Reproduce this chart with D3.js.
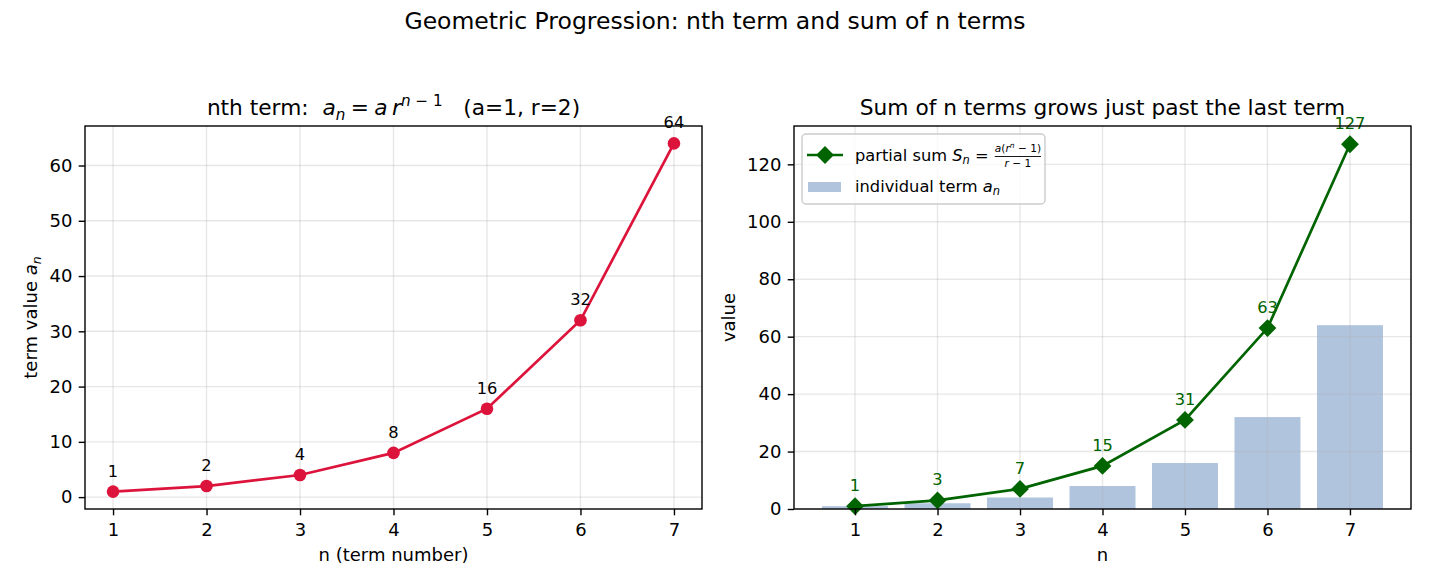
<!DOCTYPE html>
<html lang="en">
<head>
<meta charset="UTF-8"/>
<title>Geometric Progression</title>
<script src="https://d3js.org/d3.v7.min.js"></script>
<style>
  body { margin: 0; background: #fff; }
  text { font-family: "DejaVu Sans", sans-serif; white-space: pre; }
</style>
</head>
<body>
<script>
    // Data
    var nValues = [1, 2, 3, 4, 5, 6, 7];
    var terms = [1, 2, 4, 8, 16, 32, 64];
    var partialSums = [1, 3, 7, 15, 31, 63, 127];
    var leftYTicks = [0, 10, 20, 30, 40, 50, 60];
    var rightYTicks = [0, 20, 40, 60, 80, 100, 120];

    var w = 1430, h = 585;
    var top0 = 126, bottom0 = 509;
    var tickLen = 6.3, tickFont = 18;
    var lw = 2.7;

    var svg = d3.select("body").append("svg")
        .attr("width", w).attr("height", h);

    // Figure title
    svg.append("text")
        .attr("x", 715).attr("y", 29)
        .attr("text-anchor", "middle")
        .attr("font-size", "23.5px")
        .text("Geometric Progression: nth term and sum of n terms");

    // grid lines at the tick positions
    function drawGrid(g, x, y, yTicks) {
        var x0 = x.range()[0], x1 = x.range()[1];
        var y0 = y.range()[1], y1 = y.range()[0];
        g.selectAll("line.gx").data(nValues).enter().append("line")
            .attr("x1", function(d) { return x(d); })
            .attr("x2", function(d) { return x(d); })
            .attr("y1", y0).attr("y2", y1)
            .attr("stroke", "#b0b0b0").attr("stroke-opacity", 0.3).attr("stroke-width", 1.4);
        g.selectAll("line.gy").data(yTicks).enter().append("line")
            .attr("y1", function(d) { return y(d); })
            .attr("y2", function(d) { return y(d); })
            .attr("x1", x0).attr("x2", x1)
            .attr("stroke", "#b0b0b0").attr("stroke-opacity", 0.3).attr("stroke-width", 1.4);
    }

    function drawAxes(g, x, y, yTicks) {
        var x0 = x.range()[0], x1 = x.range()[1];
        var y0 = y.range()[1], y1 = y.range()[0];
        var xAxis = d3.axisBottom(x).tickValues(nValues).tickSize(tickLen).tickPadding(7.9)
            .tickFormat(d3.format("d"));
        var yAxis = d3.axisLeft(y).tickValues(yTicks).tickSize(tickLen).tickPadding(6.3)
            .tickFormat(d3.format("d"));
        var gx = g.append("g").attr("transform", "translate(0," + y1 + ")").call(xAxis);
        var gy = g.append("g").attr("transform", "translate(" + x0 + ",0)").call(yAxis);
        [gx, gy].forEach(function(a) {
            a.select(".domain").remove();
            a.selectAll("line").attr("stroke", "#000").attr("stroke-width", 1.4);
            a.selectAll("text").attr("font-size", tickFont + "px")
                .attr("font-family", "DejaVu Sans").attr("fill", "#000");
        });
        g.append("rect")
            .attr("x", x0).attr("y", y0)
            .attr("width", x1 - x0).attr("height", y1 - y0)
            .attr("fill", "none").attr("stroke", "#000").attr("stroke-width", 1.4);
    }

    // ---------- Left panel: nth term ----------
    var xL = d3.scaleLinear().domain([0.7, 7.3]).range([85, 702]);
    var yL = d3.scaleLinear().domain([-2.15, 67.15]).range([bottom0, top0]);
    var gL = svg.append("g");
    drawGrid(gL, xL, yL, leftYTicks);

    var lineL = d3.line()
        .x(function(d, i) { return xL(nValues[i]); })
        .y(function(d) { return yL(d); });
    gL.append("path").datum(terms)
        .attr("d", lineL)
        .attr("fill", "none").attr("stroke", "#dc143c").attr("stroke-width", lw);
    gL.selectAll("circle.pt").data(terms).enter().append("circle")
        .attr("cx", function(d, i) { return xL(nValues[i]); })
        .attr("cy", function(d) { return yL(d); })
        .attr("r", 6.3).attr("fill", "#dc143c");
    gL.selectAll("text.lab").data(terms).enter().append("text")
        .attr("x", function(d, i) { return xL(nValues[i]); })
        .attr("y", function(d) { return yL(d) - 15; })
        .attr("text-anchor", "middle").attr("font-size", "16.25px")
        .text(function(d) { return d; });
    drawAxes(gL, xL, yL, leftYTicks);

    // Left title with math
    var tL = svg.append("text").attr("x", 393.5).attr("y", 115)
        .attr("text-anchor", "middle").attr("font-size", "21.7px");
    tL.append("tspan").text("nth term:  ");
    tL.append("tspan").attr("font-style", "italic").text("a");
    tL.append("tspan").attr("font-style", "italic").attr("font-size", "15.2px").attr("dy", 4.5).text("n");
    tL.append("tspan").attr("dy", -4.5).text("\u2005=\u2005");
    tL.append("tspan").attr("font-style", "italic").text("a\u2009");
    tL.append("tspan").attr("font-style", "italic").text("r");
    tL.append("tspan").attr("font-size", "15.2px").attr("dy", -9).attr("font-style", "italic").text("n");
    tL.append("tspan").attr("font-size", "15.2px").text(" \u2212 1");
    tL.append("tspan").attr("dy", 9).text("   (a=1, r=2)");

    svg.append("text").attr("x", 393.5).attr("y", 561)
        .attr("text-anchor", "middle").attr("font-size", "18px")
        .text("n (term number)");
    var yLab = svg.append("text")
        .attr("transform", "translate(37," + ((top0 + bottom0) / 2) + ") rotate(-90)")
        .attr("text-anchor", "middle").attr("font-size", "18px");
    yLab.append("tspan").text("term value ");
    yLab.append("tspan").attr("font-style", "italic").text("a");
    yLab.append("tspan").attr("font-style", "italic").attr("font-size", "12.6px").attr("dy", 4).text("n");

    // ---------- Right panel: partial sums ----------
    var xR = d3.scaleLinear().domain([0.26, 7.74]).range([794, 1411]);
    var yR = d3.scaleLinear().domain([0, 133.35]).range([bottom0, top0]);
    var gR = svg.append("g");
    var barW = xR(0.8) - xR(0);
    gR.selectAll("rect.bar").data(terms).enter().append("rect")
        .attr("x", function(d, i) { return xR(nValues[i] - 0.4); })
        .attr("y", function(d) { return yR(d); })
        .attr("width", barW)
        .attr("height", function(d) { return yR(0) - yR(d); })
        .attr("fill", "#b0c4de");
    drawGrid(gR, xR, yR, rightYTicks);

    var lineR = d3.line()
        .x(function(d, i) { return xR(nValues[i]); })
        .y(function(d) { return yR(d); });
    gR.append("path").datum(partialSums)
        .attr("d", lineR)
        .attr("fill", "none").attr("stroke", "#006400").attr("stroke-width", lw);
    var diamond = "M0,-8.9L8.9,0L0,8.9L-8.9,0Z";
    gR.selectAll("path.pt").data(partialSums).enter().append("path")
        .attr("d", diamond)
        .attr("transform", function(d, i) { return "translate(" + xR(nValues[i]) + "," + yR(d) + ")"; })
        .attr("fill", "#006400");
    gR.selectAll("text.lab").data(partialSums).enter().append("text")
        .attr("x", function(d, i) { return xR(nValues[i]); })
        .attr("y", function(d) { return yR(d) - 15; })
        .attr("text-anchor", "middle").attr("font-size", "16.25px").attr("fill", "#006400")
        .text(function(d) { return d; });
    drawAxes(gR, xR, yR, rightYTicks);

    svg.append("text").attr("x", 1102.5).attr("y", 115)
        .attr("text-anchor", "middle").attr("font-size", "21.7px")
        .text("Sum of n terms grows just past the last term");
    svg.append("text").attr("x", 1102.5).attr("y", 561)
        .attr("text-anchor", "middle").attr("font-size", "18px")
        .text("n");
    svg.append("text")
        .attr("transform", "translate(735," + ((top0 + bottom0) / 2) + ") rotate(-90)")
        .attr("text-anchor", "middle").attr("font-size", "18px")
        .text("value");

    // Legend
    var lg = svg.append("g");
    lg.append("rect").attr("x", 802).attr("y", 134).attr("width", 243).attr("height", 70)
        .attr("rx", 4).attr("fill", "#fff").attr("fill-opacity", 0.8)
        .attr("stroke", "#cccccc").attr("stroke-width", 1.4);
    lg.append("line").attr("x1", 807).attr("x2", 843).attr("y1", 155).attr("y2", 155)
        .attr("stroke", "#006400").attr("stroke-width", lw);
    lg.append("path").attr("d", diamond).attr("transform", "translate(825,155)").attr("fill", "#006400");
    var l1 = lg.append("text").attr("x", 855).attr("y", 161).attr("font-size", "16.25px");
    l1.append("tspan").text("partial sum ");
    l1.append("tspan").attr("font-style", "italic").text("S");
    l1.append("tspan").attr("font-style", "italic").attr("font-size", "11.4px").attr("dy", 3).text("n");
    l1.append("tspan").attr("dy", -3).text(" = ");
    var l1w = l1.node().getComputedTextLength();
    var fx = 855 + l1w + 1;
    var num = lg.append("text").attr("x", fx).attr("y", 151.5).attr("font-size", "10.6px");
    num.append("tspan").attr("font-style", "italic").text("a");
    num.append("tspan").text("(");
    num.append("tspan").attr("font-style", "italic").text("r");
    num.append("tspan").attr("font-style", "italic").attr("font-size", "7.5px").attr("dy", -4).text("n");
    num.append("tspan").attr("dy", 4).text(" \u2212 1)");
    var numW = num.node().getComputedTextLength();
    lg.append("line").attr("x1", fx).attr("x2", fx + numW).attr("y1", 156.5).attr("y2", 156.5)
        .attr("stroke", "#000").attr("stroke-width", 0.9);
    var den = lg.append("text").attr("x", fx + numW / 2).attr("y", 166.5).attr("font-size", "10.6px")
        .attr("text-anchor", "middle");
    den.append("tspan").attr("font-style", "italic").text("r");
    den.append("tspan").text(" \u2212 1");

    lg.append("rect").attr("x", 808).attr("y", 182).attr("width", 33).attr("height", 10)
        .attr("fill", "#b0c4de");
    var l2 = lg.append("text").attr("x", 855).attr("y", 192).attr("font-size", "16.25px");
    l2.append("tspan").text("individual term ");
    l2.append("tspan").attr("font-style", "italic").text("a");
    l2.append("tspan").attr("font-style", "italic").attr("font-size", "11.4px").attr("dy", 3).text("n");
</script>
</body>
</html>
